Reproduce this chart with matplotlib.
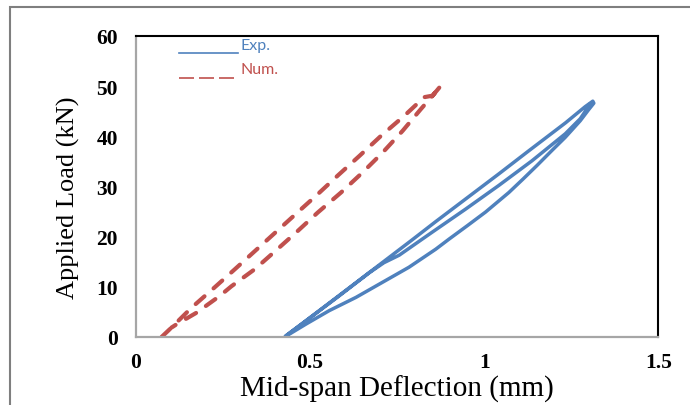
import matplotlib
matplotlib.use('Agg')
import matplotlib.pyplot as plt
import numpy as np
from matplotlib.legend_handler import HandlerLine2D
from matplotlib.patches import Rectangle

# Experimental loop (load - unload - reload)
exp_x = [0.427, 0.489, 0.555, 0.632, 0.708, 0.784, 0.861, 0.899, 0.952, 1.004,
         1.071, 1.112, 1.152, 1.195, 1.233, 1.276, 1.300, 1.315, 1.312, 1.290,
         1.234, 1.128, 1.042, 0.861, 0.794, 0.622, 0.479, 0.430,
         0.480, 0.580, 0.670, 0.712, 0.756, 0.851, 0.947, 1.042, 1.137, 1.233, 1.276, 1.305]
exp_y = [0.0, 2.6, 5.25, 7.9, 10.9, 13.9, 17.5, 19.5, 22.2, 24.9,
         28.8, 31.5, 34.2, 37.2, 39.8, 43.1, 45.3, 46.6, 47.0, 45.9,
         42.7, 37.1, 32.5, 23.0, 19.4, 10.3, 2.75, 0.2,
         2.8, 8.0, 12.8, 14.8, 16.3, 20.9, 25.5, 30.2, 35.1, 40.5, 43.5, 46.5]

# Numerical curve (up on one branch, down on the other)
num_x = [0.0736, 0.102, 0.160, 0.222, 0.284, 0.346, 0.408, 0.470, 0.518, 0.580,
         0.642, 0.704, 0.771, 0.828, 0.852, 0.876,
         0.852, 0.818, 0.766, 0.709, 0.651, 0.589, 0.522, 0.465, 0.403, 0.341,
         0.274, 0.241, 0.174, 0.116, 0.102]
num_y = [0.0, 1.87, 5.86, 9.64, 13.5, 17.4, 21.3, 25.2, 28.2, 32.2,
         36.1, 40.1, 44.1, 47.8, 48.1, 50.1,
         48.1, 45.4, 41.1, 36.8, 32.8, 28.8, 24.8, 21.15, 17.3, 13.5,
         10.1, 8.2, 4.84, 2.5, 1.87]

series_names = ["Exp.", "Num."]
x_ticks = [0, 0.5, 1, 1.5]
x_tick_labels = ["0", "0.5", "1", "1.5"]
y_ticks = [0, 10, 20, 30, 40, 50, 60]

blue = '#4f81bd'
red = '#c0504d'


class BaselineLine(HandlerLine2D):
    # put the legend line at the text baseline, like an underscore
    def create_artists(self, legend, orig_handle, xdescent, ydescent,
                       width, height, fontsize, trans):
        arts = super().create_artists(legend, orig_handle, xdescent, ydescent,
                                      width, height, fontsize, trans)
        for a in arts:
            n = len(a.get_xdata())
            a.set_ydata(np.full(n, -0.4 * height))
        return arts


fig = plt.figure(figsize=(6.9, 4.06), dpi=100)
ax = fig.add_axes([0.197, 0.1675, 0.757, 0.7415])

ax.plot(exp_x, exp_y, color=blue, lw=2.5, solid_joinstyle='round',
        solid_capstyle='round', label=series_names[0])
ax.plot(num_x, num_y, color=red, lw=3.0, dashes=(2.8, 2.9),
        dash_capstyle='round', label=series_names[1])

ax.set_xlim(0, 1.5)
ax.set_ylim(0, 60)
ax.set_xticks(x_ticks)
ax.set_xticklabels(x_tick_labels)
ax.set_yticks(y_ticks)
ax.tick_params(length=0)
ax.tick_params(axis='y', pad=13)
ax.tick_params(axis='x', pad=11)
for lab in ax.get_xticklabels() + ax.get_yticklabels():
    lab.set_family('Liberation Serif')
    lab.set_fontweight('bold')
    lab.set_fontsize(15.5)

ax.set_xlabel('Mid-span Deflection (mm)', family='Liberation Serif', fontsize=21)
ax.xaxis.set_label_coords(0.5, -0.125, transform=ax.transAxes)
ax.xaxis.label.set_va('top')
ax.set_ylabel('Applied Load (kN)', family='Liberation Serif', fontsize=19)
ax.yaxis.set_label_coords(-0.107, 0.465)

for s in ['left', 'bottom']:
    ax.spines[s].set_color('#a6a6a6')
    ax.spines[s].set_linewidth(1.6)
for s in ['top', 'right']:
    ax.spines[s].set_color('black')
    ax.spines[s].set_linewidth(1.5)

leg_l1 = plt.Line2D([], [], color=blue, lw=1.2)
leg_l2 = plt.Line2D([], [], color=red, lw=1.2, dashes=(9, 3))
leg = ax.legend([leg_l1, leg_l2], series_names, loc='upper left',
                bbox_to_anchor=(0.08, 1.0), frameon=False, borderaxespad=0,
                borderpad=0.1, handlelength=3.7, handletextpad=0.15,
                labelspacing=0.65, prop={'family': 'Lato', 'size': 11.5},
                handler_map={plt.Line2D: BaselineLine()})
leg.get_texts()[0].set_color(blue)
leg.get_texts()[1].set_color(red)

# outer frame of the picture
fig.patches.append(Rectangle((10 / 690, -0.1), 1.2, 1.0815, transform=fig.transFigure,
                             fill=False, ec='#7f7f7f', lw=1.5))

fig.savefig('out.png', dpi=100)
